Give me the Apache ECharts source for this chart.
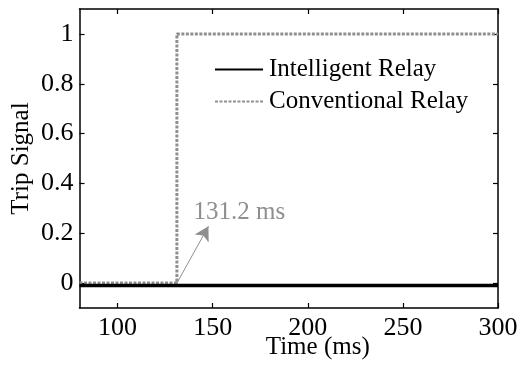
<!DOCTYPE html>
<html>
<head>
<meta charset="utf-8">
<script src="https://cdn.jsdelivr.net/npm/echarts@6/dist/echarts.min.js"></script>
<style>
  html, body { margin: 0; padding: 0; background: #fff; }
  #chart { width: 517px; height: 367px; }
</style>
</head>
<body>
<div id="chart"></div>
<script>
// Trip signals of the two relays over time (ms)
const timeMs = [80, 131.2, 131.2, 300];
const conventionalRelay = [0, 0, 1, 1];
const intelligentRelay = [-0.01, -0.01, -0.01, -0.01];
const tripTimeMs = 131.2;
const tripLabel = '131.2 ms';
const xTicks = [100, 150, 200, 250, 300];
const yTicks = [0, 0.2, 0.4, 0.6, 0.8, 1];

const FONT = '"Liberation Serif", "Times New Roman", serif';
const GRAY = '#8f8f8f';

function pairs(xs, ys) { return xs.map((x, i) => [x, ys[i]]); }

const chart = echarts.init(document.getElementById('chart'), null, { renderer: 'canvas' });

const baseX = {
  type: 'value', min: 80, max: 300,
  axisLine: { show: true, onZero: false, lineStyle: { color: '#000', width: 1.5 } },
  axisTick: { show: true, inside: true, length: 5, customValues: xTicks, lineStyle: { color: '#000', width: 1.2 } },
  splitLine: { show: false }
};
const baseY = {
  type: 'value', min: -0.1, max: 1.1,
  axisLine: { show: true, onZero: false, lineStyle: { color: '#000', width: 1.5 } },
  axisTick: { show: true, inside: true, length: 5, customValues: yTicks, lineStyle: { color: '#000', width: 1.2 } },
  splitLine: { show: false }
};

chart.setOption({
  animation: false,
  backgroundColor: '#fff',
  textStyle: { fontFamily: FONT },
  grid: { left: 79.5, right: 19, top: 9, bottom: 59, containLabel: false, outerBoundsMode: 'none' },
  legend: {
    left: 209, top: 52, orient: 'vertical',
    itemWidth: 48, itemHeight: 10, itemGap: 7,
    itemStyle: { opacity: 0 },
    textStyle: { fontFamily: FONT, fontSize: 25, color: '#000', lineHeight: 25, padding: [0, 0, 0, 1] },
    data: ['Intelligent Relay', 'Conventional Relay']
  },
  xAxis: [
    Object.assign({}, baseX, {
      position: 'bottom',
      name: 'Time (ms)', nameLocation: 'middle', nameGap: 27, nameMoveOverlap: false,
      nameTextStyle: { fontFamily: FONT, fontSize: 25, color: '#000', padding: [0, 0, 0, 58] },
      axisLabel: { show: true, customValues: xTicks, margin: 7, fontFamily: FONT, fontSize: 26, color: '#000' }
    }),
    Object.assign({}, baseX, { position: 'top', axisLabel: { show: false } })
  ],
  yAxis: [
    Object.assign({}, baseY, {
      position: 'left',
      name: 'Trip Signal', nameLocation: 'middle', nameGap: 46, nameMoveOverlap: false,
      nameTextStyle: { fontFamily: FONT, fontSize: 25, color: '#000' },
      axisLabel: {
        show: true, customValues: yTicks, margin: 6, fontFamily: FONT, fontSize: 26, color: '#000',
        formatter: v => String(Math.round(v * 10) / 10)
      }
    }),
    Object.assign({}, baseY, { position: 'right', axisLabel: { show: false } })
  ],
  series: [
    {
      name: 'Conventional Relay', type: 'line', xAxisIndex: 0, yAxisIndex: 0,
      data: pairs(timeMs, conventionalRelay), symbol: 'none', z: 2,
      lineStyle: { color: GRAY, width: 3, type: [3, 1.5] },
      itemStyle: { color: GRAY },
      markLine: {
        silent: true, symbol: ['none', 'arrow'], symbolSize: [12, 14],
        label: { show: false },
        lineStyle: { color: GRAY, width: 1, type: 'solid' },
        data: [[{ coord: [tripTimeMs, 0] }, { coord: [147.8, 0.228] }]]
      },
      markPoint: {
        silent: true, symbol: 'circle', symbolSize: 0,
        label: { show: true, position: 'inside', formatter: tripLabel, fontFamily: FONT, fontSize: 25, color: GRAY },
        data: [{ coord: [164, 0.284] }]
      }
    },
    {
      name: 'Intelligent Relay', type: 'line', xAxisIndex: 0, yAxisIndex: 0,
      data: pairs(timeMs, intelligentRelay), symbol: 'none', z: 3,
      lineStyle: { color: '#000', width: 3.5 },
      itemStyle: { color: '#000' }
    }
  ]
});
</script>
</body>
</html>
